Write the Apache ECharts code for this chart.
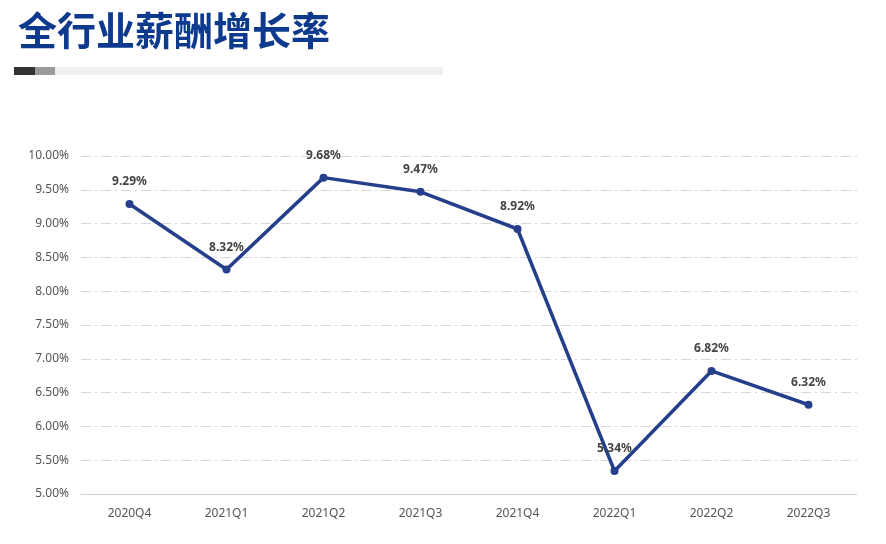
<!DOCTYPE html>
<html>
<head>
<meta charset="utf-8">
<script src="https://cdn.jsdelivr.net/npm/echarts@6/dist/echarts.min.js"></script>
<style>
  html, body { margin: 0; padding: 0; background: #fff; }
  #chart { width: 886px; height: 544px; }
</style>
</head>
<body>
<div id="chart"></div>
<script>
// 季度
var quarters = ['2020Q4', '2021Q1', '2021Q2', '2021Q3', '2021Q4', '2022Q1', '2022Q2', '2022Q3'];
// 薪酬增长率(%)
var growth = [9.29, 8.32, 9.68, 9.47, 8.92, 5.34, 6.82, 6.32];

var my_chart = echarts.init(document.getElementById('chart'));

var option = {
    backgroundColor: '#fff',
    title: {
        text: '全行业薪酬增长率',
        left: 13,
        top: 6,
        textStyle: { fontSize: 39, fontWeight: 'bold', color: '#0d3a8c', fontFamily: 'Noto Sans CJK SC' }
    },
    graphic: [
        { type: 'rect', shape: { x: 14, y: 67, width: 429, height: 8 }, style: { fill: '#f0f0f0' } },
        { type: 'rect', shape: { x: 14, y: 67, width: 21, height: 8 }, style: { fill: '#333' } },
        { type: 'rect', shape: { x: 35, y: 67, width: 20, height: 8 }, style: { fill: '#999' } }
    ],
    grid: { left: 81, right: 29, top: 156, bottom: 50 },
    xAxis: {
        type: 'category',
        data: quarters,
        axisLine: { lineStyle: { color: '#d0d0d0' } },
        axisTick: { show: false },
        axisLabel: { color: '#555', fontSize: 12, margin: 14, fontFamily: 'Noto Sans' }
    },
    yAxis: {
        type: 'value',
        min: 5,
        max: 10,
        interval: 0.5,
        axisLine: { show: false },
        axisTick: { show: false },
        axisLabel: {
            color: '#555', fontSize: 12, margin: 12, fontFamily: 'Noto Sans',
            formatter: function (v) { return v.toFixed(2) + '%'; }
        },
        splitLine: { lineStyle: { color: '#d6d6d6', type: [10, 4, 2, 4] } }
    },
    series: [{
        type: 'line',
        data: growth,
        symbol: 'circle',
        symbolSize: 8,
        lineStyle: { color: '#253f8a', width: 3.5 },
        itemStyle: { color: '#253f8a' },
        label: {
            show: true,
            position: 'top',
            distance: 12,
            color: '#444',
            fontSize: 12,
            fontWeight: 'bold',
            fontFamily: 'Noto Sans',
            formatter: function (p) { return p.value.toFixed(2) + '%'; }
        }
    }]
};

my_chart.setOption(option);
</script>
</body>
</html>
